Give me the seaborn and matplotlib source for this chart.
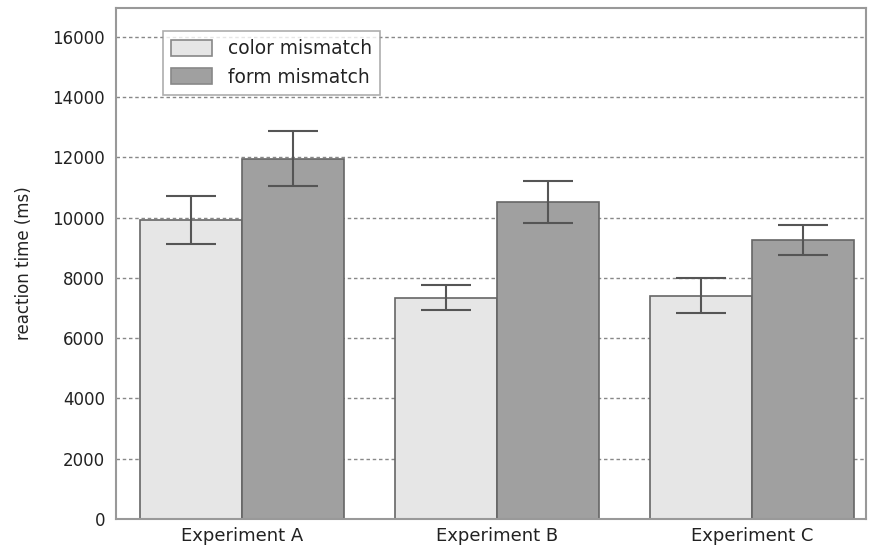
import matplotlib
matplotlib.use("Agg")
import matplotlib.pyplot as plt
import seaborn as sns
import pandas as pd
import numpy as np

experiments = ["Experiment A", "Experiment B", "Experiment C"]
conditions = ["color mismatch", "form mismatch"]
color_means = [9920, 7350, 7410]
color_errs = [790, 410, 580]
form_means = [11960, 10510, 9260]
form_errs = [920, 700, 490]
yticks = [0, 2000, 4000, 6000, 8000, 10000, 12000, 14000, 16000]

df = pd.DataFrame({
    "experiment": experiments * 2,
    "condition": [conditions[0]] * 3 + [conditions[1]] * 3,
    "rt": color_means + form_means,
    "err": color_errs + form_errs,
})

sns.set_style("white")
plt.rcParams["font.family"] = ["DejaVu Sans"]
plt.rcParams["text.color"] = "#222222"
plt.rcParams["xtick.color"] = "#222222"
plt.rcParams["ytick.color"] = "#222222"
plt.rcParams["axes.labelcolor"] = "#222222"

fig = plt.figure(figsize=(8.69, 5.53), dpi=100)
ax = fig.add_axes([0.1335, 0.0615, 0.863, 0.924])

palette = {conditions[0]: "#e6e6e6", conditions[1]: "#a0a0a0"}
sns.barplot(data=df, x="experiment", y="rt", hue="condition", hue_order=conditions,
            order=experiments, palette=palette, errorbar=None, width=0.8,
            edgecolor="#666666", linewidth=1.2, ax=ax, zorder=2)

# error bars at bar centers
for cont, cond in zip(ax.containers, conditions):
    sub = df[df["condition"] == cond].set_index("experiment").loc[experiments]
    xs = [p.get_x() + p.get_width() / 2 for p in cont.patches]
    ax.errorbar(xs, sub["rt"].values, yerr=sub["err"].values, fmt="none",
                ecolor="#555555", elinewidth=1.5, capsize=18, capthick=1.5, zorder=3)

ax.set_ylim(0, 16960)
ax.set_xlim(-0.494, 2.447)
ax.set_yticks(yticks)
ax.set_yticklabels([str(v) for v in yticks], fontsize=12)
ax.tick_params(axis="x", labelsize=13, length=0, pad=6)
ax.tick_params(axis="y", length=0, pad=8)
ax.set_xlabel("")
ax.set_ylabel("reaction time (ms)", fontsize=12, labelpad=14)

ax.yaxis.grid(True, linestyle=(0, (2.5, 2)), color="#888888", linewidth=1.0, zorder=0)
ax.xaxis.grid(False)
ax.set_axisbelow(True)

for s in ax.spines.values():
    s.set_visible(True)
    s.set_color("#999999")
    s.set_linewidth(1.5)

leg = ax.legend(loc="upper left", bbox_to_anchor=(0.062, 0.955), fontsize=13.4,
                frameon=True, fancybox=False, edgecolor="#999999",
                handlelength=2.2, handleheight=0.95, handletextpad=0.85,
                borderpad=0.45, labelspacing=0.5, borderaxespad=0)
leg.get_frame().set_linewidth(1.2)
for h in leg.legend_handles:
    h.set_edgecolor("#888888")

fig.savefig("out.png", dpi=100)
